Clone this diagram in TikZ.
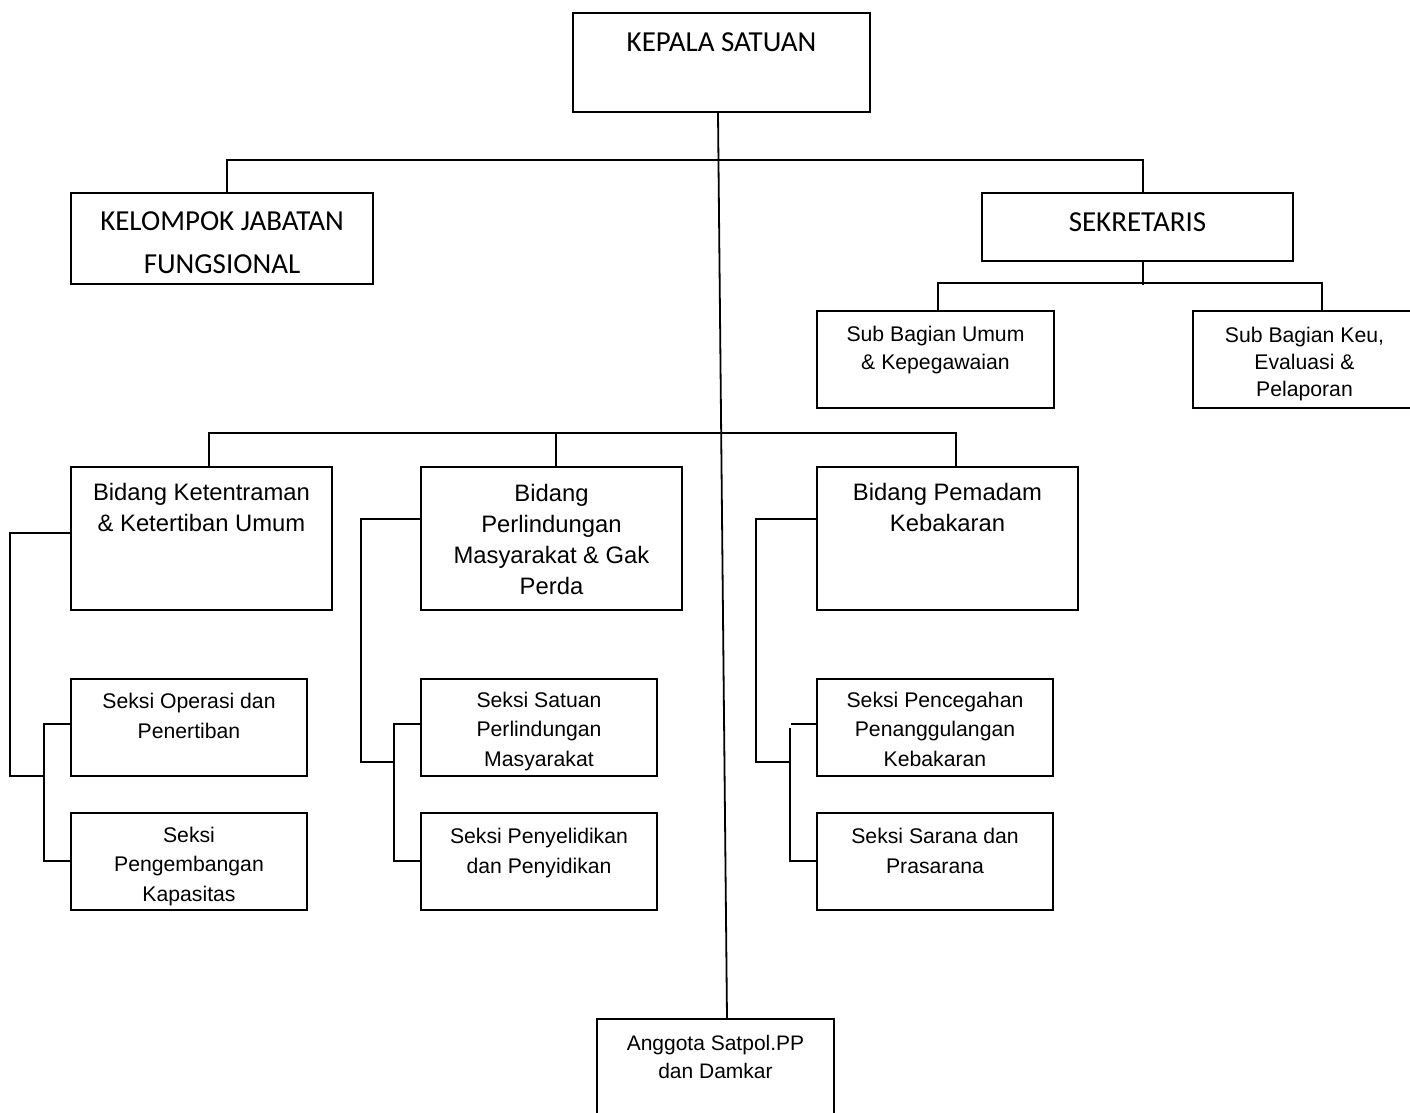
\documentclass[tikz,border=0pt]{standalone}
\usepackage{fontspec}
\setmainfont{Liberation Sans}
\newfontfamily\calibri{Carlito}
\usetikzlibrary{fit}

\begin{document}
\begin{tikzpicture} [x=0.5pt, y=-0.5pt, line width=0.9pt,
        boxunit/.style={draw, inner sep=0pt},
        head/.style={font=\calibri\fontsize{14.5}{21}\selectfont, align=center, anchor=base},
        bid/.style={font=\fontsize{11.9}{15.5}\selectfont, align=center, anchor=base},
        seksi/.style={font=\fontsize{10.6}{14.75}\selectfont, align=center, anchor=base},
        subbag/.style={font=\fontsize{10.6}{13.5}\selectfont, align=center, anchor=base}]
            \useasboundingbox (0,0) rectangle (1410,1113);

            % boxes
            \node[boxunit, fit={(573,13) (870,112)}]     (kepala)  {};
            \node[boxunit, fit={(71,193) (373,284)}]     (kjf)     {};
            \node[boxunit, fit={(982,193) (1293,261)}]   (sekr)    {};
            \node[boxunit, fit={(817,311) (1054,408)}]   (subumum) {};
            \node[boxunit, fit={(1193,311) (1416,408)}]  (subkeu)  {};
            \node[boxunit, fit={(71,467) (332,610)}]     (bid1)    {};
            \node[boxunit, fit={(421,467) (682,610)}]    (bid2)    {};
            \node[boxunit, fit={(817,467) (1078,610)}]   (bid3)    {};
            \node[boxunit, fit={(71,679) (307,776)}]     (ops)     {};
            \node[boxunit, fit={(71,813) (307,910)}]     (kap)     {};
            \node[boxunit, fit={(421,679) (657,776)}]    (sat)     {};
            \node[boxunit, fit={(421,813) (657,910)}]    (pen)     {};
            \node[boxunit, fit={(817,679) (1053,776)}]   (cegah)   {};
            \node[boxunit, fit={(817,813) (1053,910)}]   (sarana)  {};
            \node[boxunit, fit={(597,1019) (834,1130)}]  (anggota) {};

            % texts (placed on the baseline of their last line)
            \node[head] (kepalatxt) at (kepala |- 0,52) {KEPALA SATUAN};
            \node[head] (kjftxt) at (kjf |- 0,273) {KELOMPOK JABATAN\\FUNGSIONAL};
            \node[head] (sekrtxt) at (sekr |- 0,232) {SEKRETARIS};
            \node[subbag] (subumumtxt) at (subumum |- 0,369) {Sub Bagian Umum\\\& Kepegawaian};
            \node[subbag] (subkeutxt) at (subkeu |- 0,396) {Sub Bagian Keu,\\Evaluasi \&\\Pelaporan};
            \node[bid] (bid1txt) at (bid1 |- 0,531) {Bidang Ketentraman\\\& Ketertiban Umum};
            \node[bid] (bid2txt) at (bid2 |- 0,594) {Bidang\\Perlindungan\\Masyarakat \& Gak\\Perda};
            \node[bid] (bid3txt) at (bid3 |- 0,531) {Bidang Pemadam\\Kebakaran};
            \node[seksi] (opstxt) at (ops |- 0,738) {Seksi Operasi dan\\Penertiban};
            \node[seksi] (kaptxt) at (kap |- 0,901) {Seksi\\Pengembangan\\Kapasitas};
            \node[seksi] (sattxt) at (sat |- 0,766) {Seksi Satuan\\Perlindungan\\Masyarakat};
            \node[seksi] (pentxt) at (pen |- 0,873) {Seksi Penyelidikan\\dan Penyidikan};
            \node[seksi] (cegahtxt) at (cegah |- 0,766) {Seksi Pencegahan\\Penanggulangan\\Kebakaran};
            \node[seksi] (saranatxt) at (sarana |- 0,873) {Seksi Sarana dan\\Prasarana};
            \node[subbag, font=\fontsize{10.5}{14}\selectfont] (anggotatxt) at (anggota |- 0,1078) {Anggota Satpol.PP\\dan Damkar};

            % lines
            \draw (kepala.south -| 718,0) -- (anggota.north -| 727,0);
            \draw (kjf.north -| 227,0) -- ++(0,-32) -| (sekr.north -| 1143,0);
            \draw (sekr.south -| 1143,0) -- ++(0,23);
            \draw (subumum.north -| 938,0) -- ++(0,-27) -| (subkeu.north -| 1322,0);
            \draw (bid1.north -| 209,0) -- ++(0,-33) -| (bid3.north -| 956,0);
            \draw (bid2.north -| 556,0) -- ++(0,-33);

            \draw (bid1.west |- 0,533) -- ++(-60,0) |- ++(34,243);
            \draw (ops.west |- 0,724) -- ++(-26,0) |- (kap.west |- 0,861);
            \draw (bid2.west |- 0,519) -- ++(-59,0) |- ++(33,243);
            \draw (sat.west |- 0,724) -- ++(-26,0) |- (pen.west |- 0,861);
            \draw (bid3.west |- 0,519) -- ++(-60,0) |- ++(34,243);
            \draw (cegah.west |- 0,724) -- ++(-25,0);
            \draw (sarana.west |- 0,861) -- ++(-26,0) -- ++(0,-133);
        \end{tikzpicture}
\end{document}
